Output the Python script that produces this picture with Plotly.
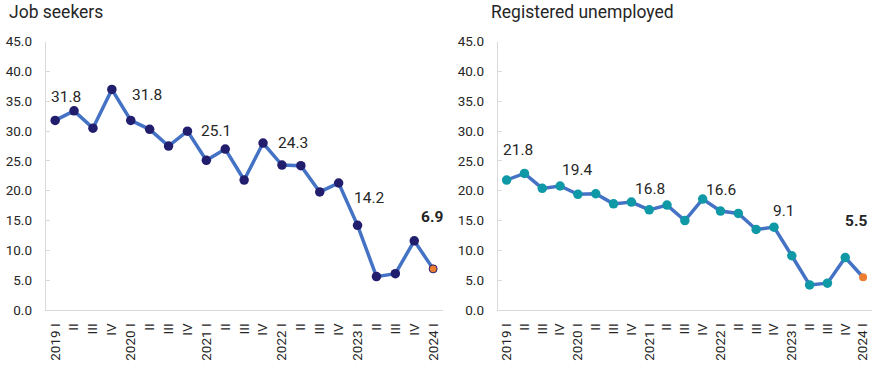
import plotly.graph_objects as go

quarters = ["2019 I", "2019 II", "2019 III", "2019 IV",
            "2020 I", "2020 II", "2020 III", "2020 IV",
            "2021 I", "2021 II", "2021 III", "2021 IV",
            "2022 I", "2022 II", "2022 III", "2022 IV",
            "2023 I", "2023 II", "2023 III", "2023 IV",
            "2024 I"]
tick_labels = ["2019 I", "II", "III", "IV",
               "2020 I", "II", "III", "IV",
               "2021 I", "II", "III", "IV",
               "2022 I", "II", "III", "IV",
               "2023 I", "II", "III", "IV",
               "2024 I"]
job_seekers = [31.8, 33.4, 30.5, 37.0, 31.8, 30.3, 27.5, 30.0, 25.1, 27.0, 21.8,
               28.0, 24.3, 24.2, 19.8, 21.3, 14.2, 5.6, 6.1, 11.6, 6.9]
registered_unemployed = [21.8, 22.9, 20.4, 20.8, 19.4, 19.5, 17.8, 18.1, 16.8, 17.6, 15.0,
                         18.6, 16.6, 16.2, 13.5, 13.9, 9.1, 4.2, 4.5, 8.8, 5.5]
y_ticks = [0, 5, 10, 15, 20, 25, 30, 35, 40, 45]

LINE = "#4472C4"
NAVY = "#221E6E"
TEAL = "#0F98A6"
ORANGE = "#ED7D31"
TXT = "#262626"
GRID = "#D9D9D9"
FONT = "Roboto"

fig = go.Figure()

n = len(quarters)
left_colors = [NAVY] * (n - 1) + [ORANGE]
left_sizes = [9.5] * (n - 1) + [8]
left_line_w = [0] * (n - 1) + [1]
right_colors = [TEAL] * (n - 1) + [ORANGE]
right_sizes = [9.5] * (n - 1) + [8]

fig.add_trace(go.Scatter(
    x=quarters, y=job_seekers, mode="lines+markers",
    line=dict(color=LINE, width=3.5),
    marker=dict(color=left_colors, size=left_sizes, opacity=1,
                line=dict(color=NAVY, width=left_line_w)),
    xaxis="x", yaxis="y", showlegend=False, hoverinfo="skip"))
fig.add_trace(go.Scatter(
    x=quarters, y=registered_unemployed, mode="lines+markers",
    line=dict(color=LINE, width=3.5),
    marker=dict(color=right_colors, size=right_sizes, opacity=1, line=dict(width=0)),
    xaxis="x2", yaxis="y2", showlegend=False, hoverinfo="skip"))

# labels: (index, xshift, yshift, bold)
left_labels = [(0, 11, 23, False), (4, 16, 25, False), (8, 10, 29, False),
               (12, 11, 22, False), (16, 12, 27, False), (20, -1, 52, True)]
right_labels = [(0, 11, 30, False), (4, 0, 24, False), (8, 1, 21, False),
                (12, 0, 21, False), (16, -8, 45, False), (20, -7, 56, True)]

annotations = []
for (i, xs, ys, b) in left_labels:
    v = job_seekers[i]
    annotations.append(dict(x=quarters[i], y=v, xref="x", yref="y",
                            text=(f"<b>{v:.1f}</b>" if b else f"{v:.1f}"),
                            showarrow=False, xshift=xs, yshift=ys,
                            font=dict(family=FONT, size=15.5, color=TXT)))
for (i, xs, ys, b) in right_labels:
    v = registered_unemployed[i]
    annotations.append(dict(x=quarters[i], y=v, xref="x2", yref="y2",
                            text=(f"<b>{v:.1f}</b>" if b else f"{v:.1f}"),
                            showarrow=False, xshift=xs, yshift=ys,
                            font=dict(family=FONT, size=15.5, color=TXT)))

annotations.append(dict(x=7 / 872, y=1 - 12 / 365, xref="paper", yref="paper",
                        xanchor="left", yanchor="middle", showarrow=False,
                        text="Job seekers", font=dict(family=FONT, size=17.5, color=TXT)))
annotations.append(dict(x=489 / 872, y=1 - 12 / 365, xref="paper", yref="paper",
                        xanchor="left", yanchor="middle", showarrow=False,
                        text="Registered unemployed",
                        font=dict(family=FONT, size=17.5, color=TXT)))

ydom = [55 / 365, 323.3 / 365]

xaxis_common = dict(
    type="category", tickvals=quarters, ticktext=tick_labels, tickangle=-90,
    range=[-0.5, len(quarters) - 0.5], autorange=False,
    showline=True, linecolor=GRID, linewidth=1, showgrid=False, zeroline=False,
    ticks="", ticklabelstandoff=7, automargin=False,
    tickfont=dict(family=FONT, size=13.5, color=TXT), fixedrange=True,
)
yaxis_common = dict(
    range=[0, 45], tickvals=y_ticks, tickformat=".1f",
    showline=True, linecolor=GRID, linewidth=1, showgrid=False, zeroline=False,
    ticks="inside", ticklen=4, tickcolor=GRID, ticklabelstandoff=10, automargin=False,
    tickfont=dict(family=FONT, size=13.5, color=TXT), fixedrange=True,
)

fig.update_layout(
    width=872, height=365,
    margin=dict(l=0, r=0, t=0, b=0, autoexpand=False),
    paper_bgcolor="white", plot_bgcolor="white",
    font=dict(family=FONT, color=TXT),
    xaxis=dict(domain=[45.7 / 872, 442.6 / 872], anchor="y", **xaxis_common),
    yaxis=dict(domain=ydom, anchor="x", **yaxis_common),
    xaxis2=dict(domain=[497.7 / 872, 1.0], anchor="y2", **xaxis_common),
    yaxis2=dict(domain=ydom, anchor="x2", **yaxis_common),
    annotations=annotations,
)

fig.write_html("out.html",
               config={"displayModeBar": False, "staticPlot": True},
               post_script="document.body.style.margin='0';document.body.style.overflow='hidden';")
